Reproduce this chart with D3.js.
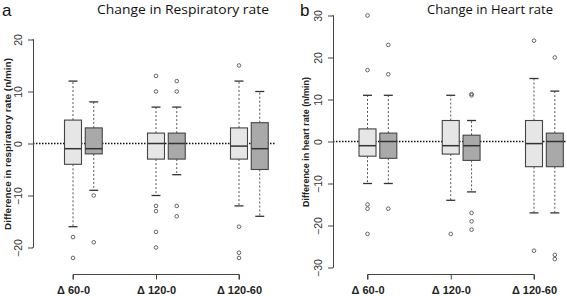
<!DOCTYPE html>
<html>
<head>
<meta charset="utf-8">
<script src="https://cdn.jsdelivr.net/npm/d3@7"></script>
<style>
  body { margin: 0; background: #fff; }
  svg { display: block; font-family: "Liberation Sans", Arial, sans-serif; }
</style>
</head>
<body>
<svg id="chart" width="567" height="296"></svg>
<script>
// group labels on the x axis
const groups = ["\u0394 60-0", "\u0394 120-0", "\u0394 120-60"];

// box stats per group: [lower whisker, q1, median, q3, upper whisker]
const respLight = [[-16, -4, -1, 4.5, 12], [-10, -3, 0, 2, 7], [-12, -3, -0.5, 3, 12]];
const respDark  = [[-9, -2, -1, 3, 8], [-6, -3, 0, 2, 7], [-14, -5, -1, 4, 10]];
const respLightOut = [[-18, -22], [10, 13, -12, -13, -17, -20], [15, -16, -21, -22]];
const respDarkOut  = [[-10, -19], [10, 12, -12, -14], []];

const hrLight = [[-10, -3.5, -1, 3, 11], [-14, -3, -1, 5, 11], [-17, -6, -0.5, 5, 15]];
const hrDark  = [[-10, -4, 0, 2, 11], [-12, -4.5, -1, 1.5, 5], [-17, -6, 0, 2, 12]];
const hrLightOut = [[17, 30, -15, -16, -22], [-22], [24, -26]];
const hrDarkOut  = [[16, 23, -16], [11, 11.3, -17, -19, -21], [20, -27, -28]];

const respTicks = [-20, -10, 0, 10, 20];
const hrTicks = [-30, -20, -10, 0, 10, 20, 30];

const svg = d3.select("#chart");

function drawPanel(cfg) {
    const g = svg.append("g");

    const x = d3.scaleLinear().domain([1, 3]).range([cfg.x0, cfg.x1]);
    const y = d3.scaleLinear().domain(cfg.yDomain).range(cfg.yRange);
    const boxW = 17, capW = 9;

    // zero reference line
    g.append("line")
        .attr("x1", cfg.axisX).attr("x2", cfg.lineEnd)
        .attr("y1", y(0)).attr("y2", y(0))
        .attr("stroke", "#111").attr("stroke-width", 1.4)
        .attr("stroke-dasharray", "1.5,1.5");

    const series = [
        {stats: cfg.light, out: cfg.lightOut, off: 0, fill: "#e6e6e6"},
        {stats: cfg.dark, out: cfg.darkOut, off: 0.25, fill: "#a9a9a9"}
    ];

    series.forEach(s => {
        s.stats.forEach((d, i) => {
            const cx = x(i + 1 + s.off);
            const [lo, q1, med, q3, hi] = d;
            // whiskers
            g.append("line").attr("x1", cx).attr("x2", cx)
                .attr("y1", y(q3)).attr("y2", y(hi))
                .attr("stroke", "#555").attr("stroke-dasharray", "2,2");
            g.append("line").attr("x1", cx).attr("x2", cx)
                .attr("y1", y(q1)).attr("y2", y(lo))
                .attr("stroke", "#555").attr("stroke-dasharray", "2,2");
            [lo, hi].forEach(v => {
                g.append("line")
                    .attr("x1", cx - capW / 2).attr("x2", cx + capW / 2)
                    .attr("y1", y(v)).attr("y2", y(v))
                    .attr("stroke", "#333").attr("stroke-width", 1.3);
            });
            // box
            g.append("rect")
                .attr("x", cx - boxW / 2).attr("width", boxW)
                .attr("y", y(q3)).attr("height", y(q1) - y(q3))
                .attr("fill", s.fill).attr("stroke", "#444").attr("stroke-width", 1.1);
            g.append("line")
                .attr("x1", cx - boxW / 2).attr("x2", cx + boxW / 2)
                .attr("y1", y(med)).attr("y2", y(med))
                .attr("stroke", "#333").attr("stroke-width", 1.5);
            // outliers
            g.selectAll(null).data(s.out[i]).enter().append("circle")
                .attr("cx", cx).attr("cy", v => y(v)).attr("r", 1.8)
                .attr("fill", "none").attr("stroke", "#555").attr("stroke-width", 0.9);
        });
    });

    // y axis
    const yAxis = g.append("g")
        .attr("transform", `translate(${cfg.axisX},0)`)
        .call(d3.axisLeft(y).tickValues(cfg.ticks).tickSize(5).tickFormat(d3.format("d")));
    yAxis.select(".domain").attr("stroke", "#444").attr("d",
        `M-0.5,${y(cfg.ticks[0])}H0.5V${y(cfg.ticks[cfg.ticks.length - 1])}H-0.5`);
    yAxis.selectAll(".tick line").attr("stroke", "#444");
    yAxis.selectAll(".tick text")
        .attr("transform", "rotate(-90)")
        .attr("x", 0).attr("y", -11).attr("dy", "0")
        .attr("text-anchor", "middle")
        .attr("font-size", 10.5).attr("fill", "#333");

    // x axis
    const xAxis = g.append("g")
        .attr("transform", `translate(0,${cfg.axisY})`)
        .call(d3.axisBottom(x).tickValues([1, 2, 3]).tickSize(5)
            .tickFormat((d, i) => groups[i]));
    xAxis.select(".domain").attr("stroke", "#444").attr("d",
        `M${x(1)},5V0H${x(3)}V5`);
    xAxis.selectAll(".tick line").attr("stroke", "#444");
    xAxis.selectAll(".tick text")
        .attr("y", 12).attr("dy", "0.71em")
        .attr("font-size", 11).attr("font-weight", "bold").attr("fill", "#222");

    // y axis title
    g.append("text")
        .attr("transform", `translate(${cfg.labelX},${cfg.labelY}) rotate(-90)`)
        .attr("text-anchor", "middle").attr("dy", "0.35em")
        .attr("font-size", 9.5).attr("font-weight", "bold").attr("fill", "#222")
        .attr("textLength", cfg.labelLen).attr("lengthAdjust", "spacingAndGlyphs")
        .text(cfg.label);

    // panel letter and title
    g.append("text")
        .attr("x", cfg.letterX).attr("y", 16)
        .attr("font-size", 17).attr("fill", "#111")
        .text(cfg.letter);
    g.append("text")
        .attr("x", cfg.titleX).attr("y", 14)
        .attr("font-family", "Open Sans, sans-serif")
        .attr("font-size", 12.5).attr("fill", "#111")
        .attr("textLength", cfg.titleLen).attr("lengthAdjust", "spacingAndGlyphs")
        .text(cfg.title);
}

drawPanel({
    x0: 73, x1: 239, axisX: 33, axisY: 274.5, lineEnd: 275,
    yDomain: [-20, 20], yRange: [247.5, 39.5], ticks: respTicks,
    light: respLight, dark: respDark, lightOut: respLightOut, darkOut: respDarkOut,
    label: "Difference in respiratory rate (n/min)", labelX: 8, labelY: 144, labelLen: 172,
    letter: "a", letterX: 2, title: "Change in Respiratory rate", titleX: 97, titleLen: 172
});

drawPanel({
    x0: 367.5, x1: 534, axisX: 333, axisY: 274.5, lineEnd: 567,
    yDomain: [-30, 30], yRange: [267.5, 15.5], ticks: hrTicks,
    label: "Difference in heart rate (n/min)", labelX: 306, labelY: 142, labelLen: 130,
    light: hrLight, dark: hrDark, lightOut: hrLightOut, darkOut: hrDarkOut,
    letter: "b", letterX: 300, title: "Change in Heart rate", titleX: 427, titleLen: 126
});
</script>
</body>
</html>
